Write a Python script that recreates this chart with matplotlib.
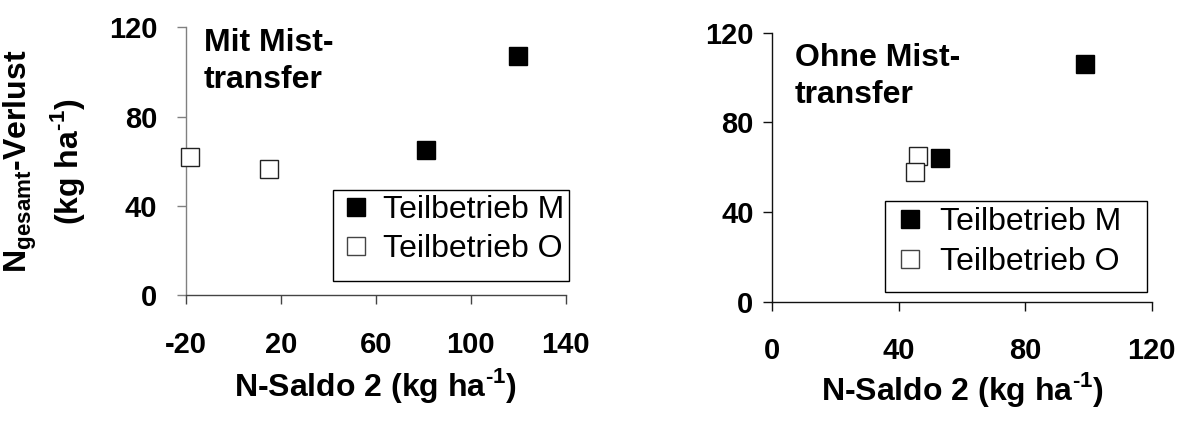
import matplotlib as mpl
mpl.use("Agg")
import matplotlib.pyplot as plt
from matplotlib.lines import Line2D
from matplotlib.patches import Rectangle

mpl.rcParams.update({
    "font.family": ["Liberation Sans", "DejaVu Sans"],
    "mathtext.fontset": "custom",
    "mathtext.rm": "Liberation Sans",
    "mathtext.bf": "Liberation Sans:bold",
    "axes.unicode_minus": False,
})

# data
mit_m_x = [81, 120]
mit_m_y = [65, 107]
mit_o_x = [-18, 15]
mit_o_y = [62, 56.5]
ohne_m_x = [53, 99]
ohne_m_y = [64, 106]
ohne_o_x = [46, 45]
ohne_o_y = [65, 58]

mit_xticks = [-20, 20, 60, 100, 140]
ohne_xticks = [0, 40, 80, 120]
yticks = [0, 40, 80, 120]
labels = ["Teilbetrieb M", "Teilbetrieb O"]

TICK_FS = 21
LAB_FS = 23
LEG_FS = 23
MS = 13.5

xlabel = "N-Saldo 2 (kg ha$^{\\mathbf{\u2010}\\mathbf{1}}$)"
ylabel = ("$\\mathbf{N_{gesamt}}$-Verlust\n"
          "(kg ha$^{\\mathbf{\u2010}\\mathbf{1}}$)")

fig = plt.figure(figsize=(11.86, 4.25), dpi=100)
ax1 = fig.add_axes([0.1566, 0.3052, 0.3204, 0.6306])
ax2 = fig.add_axes([0.6512, 0.2901, 0.3199, 0.6329])


def style(ax, xticks, xlim, spine_col, ypad):
    for s in ("top", "right"):
        ax.spines[s].set_visible(False)
    for s in ("left", "bottom"):
        ax.spines[s].set_linewidth(1.0)
    ax.spines["bottom"].set_color(spine_col[0])
    ax.spines["left"].set_color(spine_col[1])
    ax.set_xlim(*xlim)
    ax.set_ylim(0, 120)
    ax.set_xticks(xticks)
    ax.set_yticks(yticks)
    ax.tick_params(axis="x", direction="out", length=6.5, width=1.0,
                   color=spine_col[0], pad=19, labelsize=TICK_FS)
    ax.tick_params(axis="y", direction="out", length=6.5, width=1.0,
                   color=spine_col[1], pad=ypad, labelsize=TICK_FS)
    for t in ax.get_xticklabels() + ax.get_yticklabels():
        t.set_fontweight("bold")
    ax.set_xlabel(xlabel, fontsize=LAB_FS, fontweight="bold")


def add_points(ax, mx, my, ox, oy):
    ax.plot(mx, my, "s", ms=MS, mfc="black", mec="black", mew=1.0,
            ls="none", clip_on=False, zorder=3)
    ax.plot(ox, oy, "s", ms=MS, mfc="white", mec="#222222", mew=1.0,
            ls="none", clip_on=False, zorder=3)


def add_legend(ax, anchor, tpad, box):
    handles = [
        Line2D([], [], marker="s", ls="none", ms=MS, mfc="black", mec="black", mew=1.0),
        Line2D([], [], marker="s", ls="none", ms=MS, mfc="white", mec="#444444", mew=1.0),
    ]
    ax.legend(handles, labels, loc="center left", bbox_to_anchor=anchor,
              frameon=False, borderpad=0, borderaxespad=0, handlelength=0.8,
              handletextpad=tpad, labelspacing=0.3, prop={"size": LEG_FS})
    ax.add_patch(Rectangle(box[:2], box[2], box[3], transform=ax.transAxes,
                           fill=False, ec="black", lw=1.0, clip_on=False, zorder=4))


# left panel: mit Misttransfer
style(ax1, mit_xticks, (-20, 140), ("#444444", "#808080"), 14)
add_points(ax1, mit_m_x, mit_m_y, mit_o_x, mit_o_y)
add_legend(ax1, (0.414, 0.2455), 0.44, (0.387, 0.0545, 0.622, 0.3384))
ax1.text(0.048, 0.997, "Mit Mist-\ntransfer", transform=ax1.transAxes,
         fontsize=LAB_FS, fontweight="bold", va="top", ha="left", linespacing=1.3)
ax1.xaxis.set_label_coords(0.5, -0.265)
ax1.set_ylabel(ylabel, fontsize=LAB_FS, fontweight="bold", linespacing=1.3)
ax1.yaxis.set_label_coords(-0.26, 0.5)

# right panel: ohne Misttransfer
style(ax2, ohne_xticks, (0, 120), ("#111111", "#111111"), 7)
add_points(ax2, ohne_m_x, ohne_m_y, ohne_o_x, ohne_o_y)
add_legend(ax2, (0.33, 0.2223), 0.52, (0.297, 0.037, 0.691, 0.337))
ax2.text(0.06, 0.962, "Ohne Mist-\ntransfer", transform=ax2.transAxes,
         fontsize=LAB_FS, fontweight="bold", va="top", ha="left", linespacing=1.3)
ax2.xaxis.set_label_coords(0.5, -0.255)

fig.savefig("out.png", dpi=100)
